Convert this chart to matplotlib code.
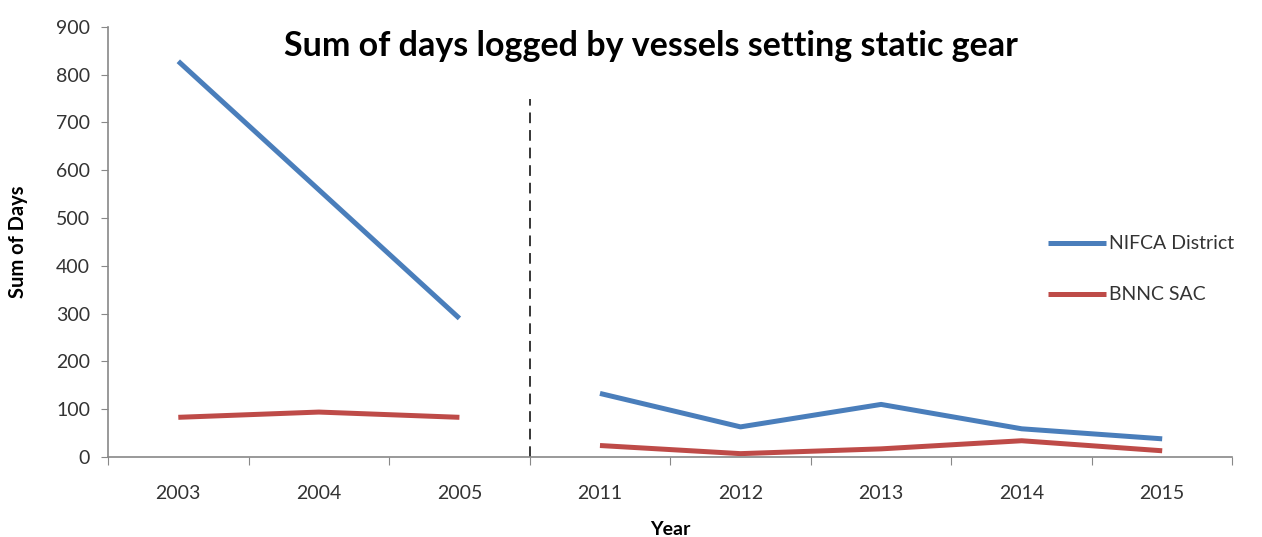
import matplotlib.pyplot as plt
import numpy as np

plt.rcParams['font.family'] = ['Lato', 'DejaVu Sans']

years = ['2003', '2004', '2005', '2011', '2012', '2013', '2014', '2015']
nifca = [828, 559, 290, 133, 63, 110, 59, 38]
bnnc = [83, 94, 83, 24, 7, 17, 34, 13]
split_at = 3  # gap between 2005 and 2011

fig = plt.figure(figsize=(12.62, 5.37), dpi=100)
ax = fig.add_axes([0.0856, 0.149, 0.891, 0.801])

x = np.arange(len(years))
for data, col, lab in [(nifca, '#4A7EBB', 'NIFCA District'), (bnnc, '#BE4B48', 'BNNC SAC')]:
    ax.plot(x[:split_at], data[:split_at], color=col, lw=3.6, label=lab, solid_capstyle='butt')
    ax.plot(x[split_at:], data[split_at:], color=col, lw=3.6, solid_capstyle='butt')

# divider between the two periods
ax.vlines(split_at - 0.5, 0, 750, colors='black', linestyles=(0, (7, 4.5)), lw=1.1)

ax.set_xlim(-0.5, len(years) - 0.5)
ax.set_ylim(0, 900)
ax.set_yticks(range(0, 901, 100))
ax.set_xticks(np.arange(-0.5, len(years), 1))
ax.set_xticklabels([])
ax.set_xticks(x, minor=True)
ax.set_xticklabels(years, minor=True)
ax.tick_params(axis='x', which='minor', length=0, pad=20, labelsize=14, colors='#333333')
ax.tick_params(axis='x', which='major', length=6, color='#888888')
ax.tick_params(axis='y', length=5, color='#888888', labelsize=14, labelcolor='#333333', pad=8)

for s in ['top', 'right']:
    ax.spines[s].set_visible(False)
for s in ['left', 'bottom']:
    ax.spines[s].set_color('#888888')
    ax.spines[s].set_linewidth(1.2)

ax.set_xlabel('Year', fontsize=14, fontweight='bold', labelpad=14)
ax.set_ylabel('Sum of Days', fontsize=14.5, fontweight='bold', labelpad=20)
ax.text(0.483, 0.955, 'Sum of days logged by vessels setting static gear', transform=ax.transAxes,
        ha='center', va='center', fontsize=24.5, fontweight='bold')

leg = ax.legend(loc='center left', bbox_to_anchor=(0.82, 0.436), frameon=False, fontsize=14,
                handlelength=3.0, handletextpad=0.15, labelspacing=1.75, labelcolor='#333333')

fig.savefig('out.png', dpi=100)
